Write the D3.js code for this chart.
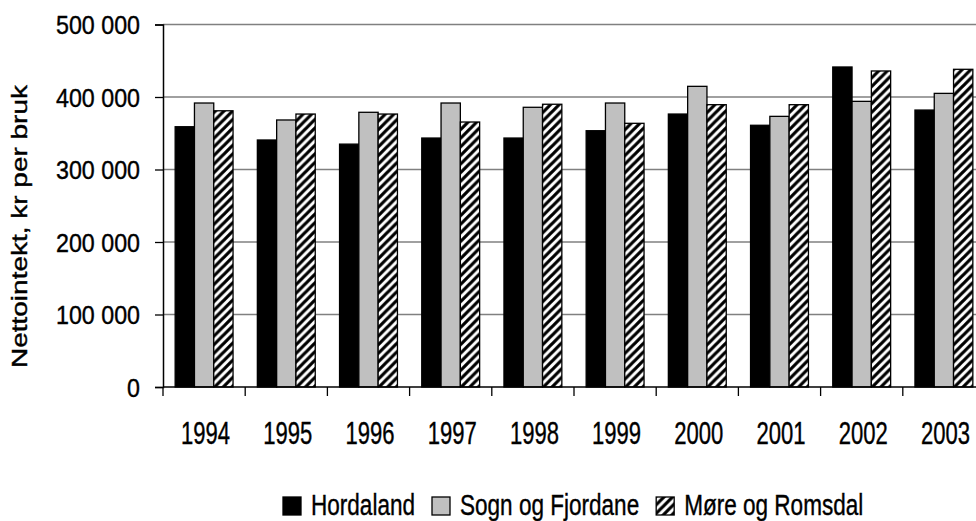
<!DOCTYPE html>
<html lang="no">
<head>
<meta charset="UTF-8">
<title>Nettointekt per bruk</title>
<script src="https://d3js.org/d3.v7.min.js"></script>
<style>
  html, body { margin: 0; padding: 0; background: #fff; }
  svg text { font-family: "Liberation Sans", Arial, sans-serif; fill: #000; stroke: #000; stroke-width: 0.4px; }
</style>
</head>
<body>
<div id="chart"></div>
<script>
// kategorier og serier, lest av figuren
const years = ['1994', '1995', '1996', '1997', '1998', '1999', '2000', '2001', '2002', '2003'];
const seriesNames = ['Hordaland', 'Sogn og Fjordane', 'Møre og Romsdal'];
const hordaland = [359000, 340700, 335000, 343400, 343400, 353500, 376500, 361000, 441400, 382000];
const sognFjordane = [391700, 368300, 378900, 391700, 385800, 391700, 414700, 373300, 394000, 405000];
const moreRomsdal = [381000, 376500, 376500, 365500, 390000, 363700, 389400, 389400, 435900, 438200];
const yTicks = [0, 100000, 200000, 300000, 400000, 500000];

const width = 976, height = 521;
const margin = {top: 24.5, left: 163, bottom: 134};
const bandW = 82.2;

const svg = d3.select('#chart').append('svg')
  .attr('width', width)
  .attr('height', height);

// smal skrift: skaler teksten slik at referanseteksten får ønsket bredde
function condense(sel, refText, refWidth, size) {
  const probe = svg.append('text').attr('font-size', size).text(refText);
  const k = refWidth / probe.node().getComputedTextLength();
  probe.remove();
  sel.each(function() {
    const len = this.getComputedTextLength();
    d3.select(this).attr('textLength', len * k).attr('lengthAdjust', 'spacingAndGlyphs');
  });
}

// skravur for Møre og Romsdal
const p = 8.6;
const pat = svg.append('defs').append('pattern')
  .attr('id', 'hatch')
  .attr('patternUnits', 'userSpaceOnUse')
  .attr('width', p).attr('height', p);
pat.append('rect').attr('width', p).attr('height', p).attr('fill', '#fff');
pat.append('path')
  .attr('d', `M${-p / 2},${p / 2} L${p / 2},${-p / 2} M0,${p} L${p},0 M${p / 2},${p * 1.5} L${p * 1.5},${p / 2}`)
  .attr('stroke', '#000').attr('stroke-width', 3.2);

const fills = ['#000', '#c0c0c0', 'url(#hatch)'];
const values = [hordaland, sognFjordane, moreRomsdal];

const x0 = d3.scaleBand().domain(years)
  .range([margin.left, margin.left + bandW * years.length]);
const x1 = d3.scaleBand().domain(seriesNames)
  .range([0, x0.bandwidth()])
  .paddingOuter(0.63);
const y = d3.scaleLinear().domain([0, 500000])
  .range([height - margin.bottom, margin.top]);

// rutenett
svg.append('g').selectAll('line').data(yTicks.slice(1)).enter().append('line')
  .attr('x1', margin.left).attr('x2', width)
  .attr('y1', d => y(d)).attr('y2', d => y(d))
  .attr('stroke', '#808080').attr('stroke-width', 1.3);

// søyler
const groups = svg.append('g').selectAll('g').data(years).enter().append('g')
  .attr('transform', d => `translate(${x0(d)},0)`);
groups.selectAll('rect')
  .data((d, i) => seriesNames.map((s, j) => ({s, j, v: values[j][i]})))
  .enter().append('rect')
  .attr('x', d => x1(d.s))
  .attr('width', x1.bandwidth())
  .attr('y', d => y(d.v))
  .attr('height', d => y(0) - y(d.v))
  .attr('fill', d => fills[d.j])
  .attr('stroke', '#000')
  .attr('stroke-width', 1.3);

// y-akse
const fmt = d => d === 0 ? '0' : d3.format(',')(d).replace(/,/g, ' ');
const yAxis = svg.append('g')
  .attr('transform', `translate(${margin.left},0)`)
  .call(d3.axisLeft(y).tickValues(yTicks).tickFormat(fmt).tickSize(8).tickPadding(15));
yAxis.select('.domain').attr('stroke', '#000').attr('stroke-width', 1.5);
yAxis.selectAll('.tick line').attr('stroke', '#000').attr('stroke-width', 1.3);
yAxis.selectAll('.tick text')
  .attr('font-size', 26)
  .attr('dy', '0.35em')
  .style('font-family', '"Liberation Sans", Arial, sans-serif')
  .call(condense, '500 000', 84, 26);

// x-akse
const xAxis = svg.append('g')
  .attr('transform', `translate(0,${y(0)})`);
xAxis.append('line')
  .attr('x1', margin.left).attr('x2', width)
  .attr('stroke', '#000').attr('stroke-width', 1.5);
xAxis.selectAll('.tk').data(years).enter().append('line')
  .attr('class', 'tk')
  .attr('x1', d => x0(d)).attr('x2', d => x0(d))
  .attr('y1', 0).attr('y2', 9)
  .attr('stroke', '#000').attr('stroke-width', 1.3);
xAxis.selectAll('text').data(years).enter().append('text')
  .attr('x', d => x0(d) + x0.bandwidth() / 2 + 1.5)
  .attr('y', 57)
  .attr('text-anchor', 'middle')
  .attr('font-size', 31)
  .text(d => d)
  .call(condense, '1994', 49, 31);

// aksetittel
svg.append('text')
  .attr('transform', 'translate(27,226.5) rotate(-90)')
  .attr('text-anchor', 'middle')
  .attr('font-size', 22)
  .attr('textLength', 283)
  .attr('lengthAdjust', 'spacingAndGlyphs')
  .text('Nettointekt, kr per bruk');

// tegnforklaring
const legend = svg.append('g');
let lx = 283;
seriesNames.forEach((s, j) => {
  legend.append('rect')
    .attr('x', lx).attr('y', 497)
    .attr('width', 18).attr('height', 18)
    .attr('fill', fills[j])
    .attr('stroke', '#000').attr('stroke-width', 1.3);
  const t = legend.append('text')
    .attr('x', lx + 28).attr('y', 515)
    .attr('font-size', 30)
    .text(s)
    .call(condense, 'Hordaland', 104, 30);
  lx += 28 + +t.attr('textLength') + 17;
});
</script>
</body>
</html>
